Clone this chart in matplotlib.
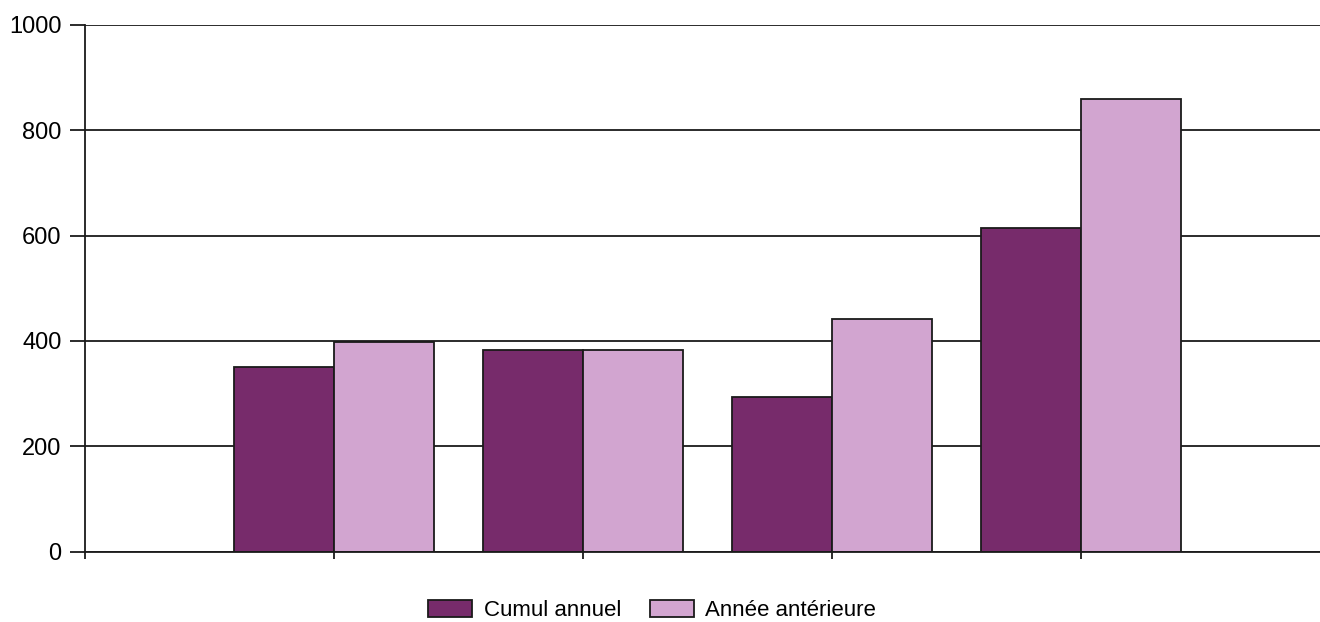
import numpy as np
import matplotlib
matplotlib.use('Agg')
from matplotlib import pyplot as plt

plt.rcParams['font.family'] = ['Liberation Sans', 'DejaVu Sans']

# data
positions = [1, 2, 3, 4]
cumul_annuel = [350, 383, 293, 615]
annee_anterieure = [398, 383, 441, 859]
yticks = [0, 200, 400, 600, 800, 1000]
labels = ['Cumul annuel', 'Année antérieure']

dark = '#772B6B'
light = '#D2A5D0'
line = '#1a1a1a'

fig = plt.figure(figsize=(13.2, 6.22), dpi=100)
ax = fig.add_axes([85 / 1320, 1 - 551.7 / 622, 1 - 85 / 1320, (551.7 - 24.7) / 622])

w = 0.4
x = np.array(positions, dtype=float)
ax.bar(x, cumul_annuel, width=-w, align='edge', color=dark,
       edgecolor=line, linewidth=1.3, zorder=3, label=labels[0])
ax.bar(x, annee_anterieure, width=w, align='edge', color=light,
       edgecolor=line, linewidth=1.3, zorder=3, label=labels[1])

ax.set_xlim(0, 1235 / 249)
ax.set_ylim(0, 1000)
ax.set_yticks(yticks)
ax.set_xticks([0, 1, 2, 3, 4])
ax.set_xticklabels([])
ax.yaxis.grid(True, color=line, linewidth=1.3, zorder=1)
ax.set_axisbelow(True)

for s in ['top', 'right']:
    ax.spines[s].set_visible(False)
for s in ['left', 'bottom']:
    ax.spines[s].set_color(line)
    ax.spines[s].set_linewidth(1.3)
    ax.spines[s].set_zorder(4)

ax.tick_params(axis='y', direction='out', length=11, width=1.3, color=line,
               labelsize=17, pad=6)
ax.tick_params(axis='x', direction='out', length=5, width=1.3, color=line)

fig.legend(loc='lower center', bbox_to_anchor=(0.494, -0.031), ncol=2,
           frameon=False, fontsize=16, handlelength=2.0, handleheight=0.85,
           handletextpad=0.5, columnspacing=1.3)

fig.savefig('out.png', dpi=100)
